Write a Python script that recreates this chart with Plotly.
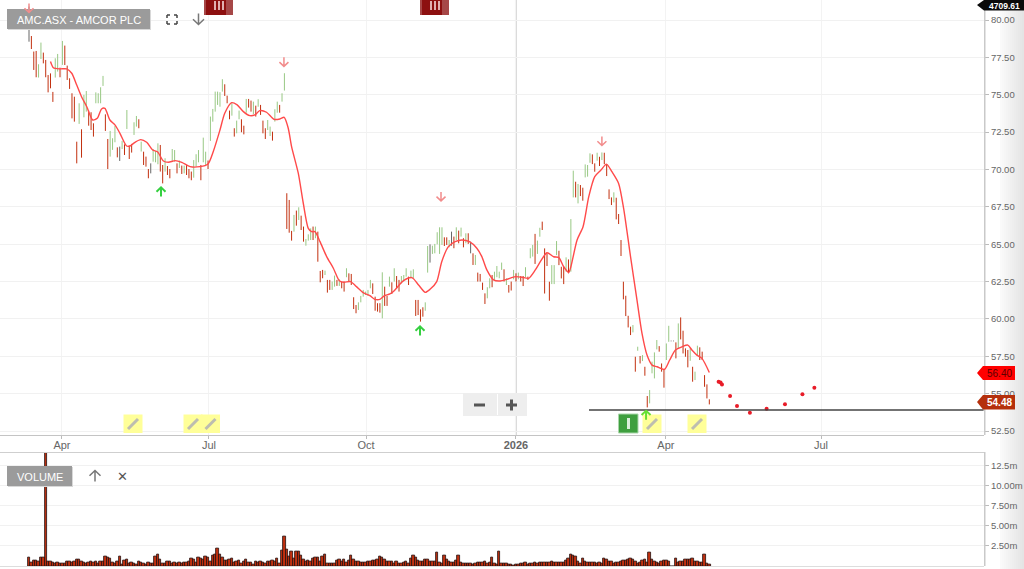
import plotly.graph_objects as go

highs = [80.9,78.93,77.89,77.93,77.04,78.49,77.82,77.33,76.32,76.43,
75.19,77.44,77.73,76.81,78.6,78.29,76.95,76.1,75.1,74.87,
71.86,74.43,72.69,74.99,75.25,73.94,73.83,73.09,75.16,75.1,
75.5,76.26,73.69,72.04,72.58,72.09,72.91,71.48,71.53,71.91,
71.68,73.98,71.6,71.71,73.16,73.58,73.36,71.86,71.19,70.86,
70.03,70.41,71.37,71.24,71.75,71.64,70.3,70.75,70.23,70.03,
71.37,71.3,70.41,70.6,70.26,70.26,70.3,70.03,69.86,70.63,
71.02,71.3,70.3,72.13,71.19,70.6,73.54,74.05,75.21,75.21,
75.17,76.04,75.7,74.94,73.94,74.43,72.76,73.27,73.94,73.36,
72.93,74.72,74.72,74.61,74.54,74.27,74.7,74.32,73.27,72.76,
73.31,72.87,72.53,74.03,74.54,74.32,75.1,76.44,68.41,67.96,
65.89,66.96,67.25,67.47,66.91,66.18,65.35,65.66,66.06,66.18,
66.18,65.84,63.21,63.28,63.23,62.61,62.61,62.5,62.9,62.61,
62.65,62.5,62.5,63.39,63.05,63.01,61.45,60.93,61.11,61.54,
61.94,61.83,61.94,62.61,62.38,61.49,61.05,61.05,63.12,62.16,
61.54,62.83,62.45,63.39,62.87,62.61,62.87,62.94,63.39,62.83,
63.23,63.32,61.27,61.27,60.64,60.78,61.11,64.88,64.99,64.9,
65.02,65.8,66.13,66.13,65.46,65.46,65.28,65.84,65.51,66.13,
65.91,66.11,65.4,65.73,65.73,65.17,64.39,64.28,63.1,63.01,
62.43,61.71,62.12,62.72,62.94,63.16,63.54,63.16,63.77,63.32,
62.72,62.27,62.5,63.28,63.05,63.1,62.87,62.87,63.46,62.83,
64.73,64.95,65.69,65.24,66.1,66.51,64.72,64.39,62.49,63.6,
63.6,65.21,64.56,63.49,63.49,64.12,63.98,66.68,69.92,69.18,
69.03,68.96,68.78,70.34,70.3,71.08,71.01,70.41,71.12,70.85,
71.14,71.12,70.36,68.67,68.13,68.47,68.11,67.02,65.28,62.49,
61.55,60.21,59.48,59.59,57.47,58.14,57.52,57.58,56.8,54.84,
55.24,57.14,57.76,58.59,58.18,57.02,56.58,58.36,59.54,58.55,
58.55,58.43,59.7,60.1,59.21,58.03,57.92,58.03,56.8,56.47,
58.21,58.1,57.81,56.24,55.62,54.62]

lows = [78.55,78.06,76.66,76.17,76.15,77.39,77.1,76.17,75.16,75.43,
74.52,76.15,76.55,76.17,77.0,76.99,75.99,75.39,73.42,73.2,
70.41,73.05,70.79,73.49,73.87,72.93,72.64,72.2,74.43,74.43,
74.43,75.59,72.58,70.03,70.86,71.31,71.82,70.81,70.57,71.37,
70.97,72.71,70.7,71.13,72.31,72.87,72.76,71.2,70.3,70.19,
69.41,69.74,70.52,70.48,70.35,69.86,69.07,69.86,69.63,69.41,
70.57,70.52,69.74,70.1,69.7,69.74,69.63,69.41,69.28,69.45,
70.19,70.48,69.28,70.48,70.3,70.03,71.91,73.2,73.87,74.32,
74.2,75.21,74.92,74.43,73.36,73.6,72.2,72.42,73.36,72.49,
72.35,73.8,74.14,73.87,73.7,73.54,74.2,73.65,72.42,72.04,
72.64,72.24,71.93,73.2,73.8,73.8,74.54,75.28,66.02,65.77,
65.24,65.84,66.24,66.62,65.95,65.17,64.9,65.24,65.28,65.28,
65.4,63.83,62.45,62.72,62.94,61.76,61.94,61.94,62.16,62.21,
62.21,62.05,61.83,62.79,62.5,62.27,60.66,60.38,60.6,61.11,
61.49,61.6,61.55,62.05,61.67,60.55,60.49,60.42,60.04,60.87,
60.87,62.16,61.67,62.5,62.05,61.83,62.38,62.5,62.83,62.27,
62.72,62.72,60.2,60.26,59.82,60.15,60.55,63.1,63.77,64.35,
64.39,64.99,64.35,64.95,64.88,64.95,64.79,64.9,64.73,65.28,
65.06,65.51,64.79,65.06,65.02,64.39,63.61,63.61,62.5,62.5,
61.94,61.0,61.38,62.05,62.12,62.61,62.79,62.72,63.28,62.5,
62.27,61.76,61.9,62.65,62.5,62.65,62.5,62.2,62.79,62.61,
64.06,64.17,63.68,64.35,65.5,65.95,61.7,63.54,61.22,62.33,
62.33,64.27,63.6,62.71,62.33,63.16,63.05,63.16,68.13,68.13,
67.73,68.22,67.91,69.47,69.52,70.45,70.36,69.85,70.59,70.23,
70.63,70.36,69.56,68.02,67.62,67.8,66.66,66.35,64.21,61.31,
60.19,59.43,58.92,59.1,56.47,57.87,57.02,57.18,56.2,54.08,
54.35,56.36,56.02,57.96,57.81,56.47,55.4,57.25,58.47,58.5,
58.5,57.36,58.03,58.63,57.69,57.47,56.76,57.2,55.8,55.91,
57.58,57.25,57.25,55.46,54.68,54.28]

kinds = ("krrrggrrrr" "rggrgrrrrr" "rgrggrrrgg" "ggrrgggrkg" "rgrrggrgrr"
         "rkgggrrgrr" "ggrgrgrrrg" "ggrggrgggg" "ggrrrgrggr" "rgrrgrgrrr"
         "ggrggrggrr" "rgrgrrgggr" "grrrgrrggr" "grrgrrrrgg" "ggggrrrrgr"
         "rgrgrrgggr" "ggrrrrggkg" "ggggrrgkrg" "rgrgrkrgrr" "rrggrggggr"
         "grrgrgrrgr" "ggrggrrrrg" "ggrrrgrggr" "grrgggrrgr" "grrrrgrrrr"
         "rrrgrgrgrr" "ggggrrrggk" "krgrrrrgrg" "grrrrr")

ma_sessions = [9,10.2,13,15.8,17.9,20,22,24.2,26.7,28.6,30.4,31.8,33.9,36,38.1,40.9,42.3,44.4,46.8,49.3,
51.8,53.8,56.3,58.4,61.2,64,67.5,71.6,75,77.2,80,82,84.9,87.2,89.8,92.5,94.6,96.7,99.5,102.6,105.1,106.9,
108.6,110,112.8,114.9,117,118.4,119.8,121.9,124.7,127.5,130,131.9,134.7,137.2,140,142.8,144.9,147,148.8,151.2,
153,156.9,160.4,163.2,166,168,170.8,172.9,175.7,178.5,181.3,184.5,187.6,189.7,191.8,194.6,197.4,200.2,203.7,
206.5,209.3,212.1,214.2,217,219.8,221.9,224,226.1,227,229.6,232.1,234.5,237,239.6,241.9,244.2,247,249.1,
251.9,254.7,256.8,258.9,261,263.1,266.2,268.4,270.8,273.6,276,277.7,279.8,281.9,285]
ma_values = [77.22,76.81,76.73,76.73,76.44,75.65,74.87,74.2,73.31,73.42,74.05,74.09,73.31,72.98,72.42,71.57,71.57,71.82,72.0,71.82,
71.3,71.19,70.57,70.48,70.59,70.48,70.19,70.19,70.37,71.2,72.64,73.76,74.47,74.32,73.87,73.6,73.65,73.94,73.83,73.36,73.38,73.49,
72.76,71.53,69.75,67.74,66.06,65.84,65.84,65.17,64.17,63.39,62.56,62.45,62.5,62.16,61.76,61.56,61.31,61.31,61.54,61.67,
61.89,62.56,62.76,62.27,61.78,61.98,62.5,63.83,64.84,65.17,65.28,65.17,64.73,64.17,63.28,62.61,62.54,62.65,62.83,
62.79,62.72,63.28,63.83,64.43,64.16,64.12,63.49,63.11,63.49,65.28,66.17,68.18,69.52,69.96,70.36,69.85,69.07,67.4,
64.27,61.26,59.03,57.58,56.91,56.8,56.62,57.25,57.92,58.14,58.25,57.92,57.58,57.36,56.42]

forecast_sessions = [288.9,289.7,290.3,293.7,296.6,302,309,316.7,324,329]
forecast_values = [55.8,55.75,55.62,54.84,54.17,53.73,53.99,54.29,54.96,55.4]

volume_m = [1.08,.41,.71,.71,.54,1.04,1.08,14.1,.54,.5,.46,.33,.41,.29,.33,.37,.5,.54,.46,
.62,.75,.75,.54,.41,.25,.46,.58,.41,.5,.25,.5,.62,1.16,1.08,.91,.46,.37,.62,1.2,
.21,.71,.83,.33,.46,.29,.17,.54,.46,.25,.21,.41,.29,.37,1.2,1.45,.75,.33,.29,
.54,.62,.25,.46,.33,.41,.25,.46,.41,.58,.95,.75,.46,1.08,.95,.75,1.16,1.08,.54,1.25,
1.37,2.16,1.37,1.08,.66,.66,.75,.91,.41,.54,.66,.33,.62,.87,.41,.41,.21,.54,.41,.62,
.41,.33,.5,.54,.71,.58,.95,.33,1.91,3.65,2.0,1.16,1.78,.95,1.78,1.78,1.29,.75,.54,.66,
.62,.95,1.08,1.08,.54,1.16,1.49,.33,.33,.25,.33,.66,.75,.54,.83,.41,.66,1.33,.75,.58,
.5,.45,.41,.45,.55,.5,.65,.7,.8,1.15,1.0,.8,.55,.5,.6,.35,.5,.3,.35,.45,.5,.35,
.9,1.35,1.0,.7,.55,.6,.85,.85,.6,.55,.55,1.7,.4,.3,1.35,.75,.5,.45,.4,.65,
1.25,.45,.3,.35,.3,.25,.2,.3,.4,.45,.4,.55,.3,.45,1.0,.25,.2,1.8,.3,.35,
.35,.2,.15,.1,.15,.2,.3,.35,.4,.15,.35,.3,.45,.35,.4,.4,.4,.45,.45,.55,
.4,.4,.4,.4,.45,.7,.95,1.4,1.35,1.15,.55,.3,.9,.5,.4,.4,.45,.4,.35,.45,
.3,.9,.75,.6,.5,.3,.4,.45,.55,.65,.7,.8,.9,.85,.5,.35,.45,.7,.85,.45,
1.65,.85,.6,.45,.3,.55,.65,.65,.55,0,0,.95,.45,.6,.55,.75,.8,.85,.9,.5,
.55,.4,.45,1.45,.35,.2]

price_ticks = [80,77.5,75,72.5,70,67.5,65,62.5,60,57.5,55,52.5]
volume_ticks = [2.5,5,7.5,10,12.5]
volume_labels = ["2.50m","5.00m","7.50m","10.00m","12.5m"]
date_ticks = [13.8,75.4,141.2,204,266.8,331.8]
date_labels = ["Apr","Jul","Oct","<b>2026</b>","Apr","Jul"]
support_level = 53.91
support_start = 234.6
signal_down = [(0,80.8),(106.8,77.2),(172.6,68.2),(240,71.9)]
signal_up = [(55.3,68.5),(163.8,59.2)]
signal_up_late = [(258.5,53.55)]

W, H = 1024, 569
FONT = "Liberation Sans"
px = lambda v: v / W
py = lambda v: 1 - v / H

def rect(x0, y0, x1, y1, fill, line=None, layer="above", op=1):
    return dict(type="rect", xref="paper", yref="paper", x0=px(x0), x1=px(x1), y0=py(y0), y1=py(y1),
                fillcolor=fill, line=dict(width=1 if line else 0, color=line or fill), layer=layer, opacity=op)

def seg(x0, y0, x1, y1, color, w=1.5, layer="above"):
    return dict(type="line", xref="paper", yref="paper", x0=px(x0), x1=px(x1), y0=py(y0), y1=py(y1),
                line=dict(color=color, width=w), layer=layer)

def poly(points, fill):
    d = "M " + " L ".join(f"{px(a):.5f},{py(b):.5f}" for a, b in points) + " Z"
    return dict(type="path", xref="paper", yref="paper", path=d, fillcolor=fill, line=dict(width=0), layer="above")

def arrow(x, y, color, up, size=4.5, w=1.5, xref="x", yref="y"):
    s = size
    h = s * 0.95
    if up:
        path = f"M 0,{-s} L 0,{s} M {-s},{s-h} L 0,{s} L {s},{s-h}"
    else:
        path = f"M 0,{s} L 0,{-s} M {-s},{-s+h} L 0,{-s} L {s},{-s+h}"
    return dict(type="path", xref=xref, yref=yref, xsizemode="pixel", ysizemode="pixel", xanchor=x, yanchor=y, path=path,
                line=dict(color=color, width=w), layer="above")

def note(text, x, y, size=11, color="#fff", bold=False, family=FONT):
    return dict(xref="paper", yref="paper", x=px(x), y=py(y), text=f"<b>{text}</b>" if bold else text,
                showarrow=False, xanchor="center", yanchor="middle", font=dict(size=size, color=color, family=family))

fig = go.Figure()

for kind, color in (("g", "#98c884"), ("r", "#c2300f"), ("k", "#666666")):
    xs, ys = [], []
    for i, (h, l, k) in enumerate(zip(highs, lows, kinds)):
        if k == kind:
            xs += [i, i, None]
            ys += [l, h, None]
    fig.add_trace(go.Scatter(x=xs, y=ys, mode="lines", line=dict(color=color, width=1), hoverinfo="skip", showlegend=False))

fig.add_trace(go.Scatter(x=ma_sessions, y=ma_values, mode="lines", line=dict(color="#ff4a4a", width=1.4, shape="spline", smoothing=0.7),
                         hoverinfo="skip", showlegend=False))
fig.add_trace(go.Scatter(x=forecast_sessions, y=forecast_values, mode="markers", marker=dict(color="#e81c28", size=4),
                         hoverinfo="skip", showlegend=False))
fig.add_trace(go.Bar(x=list(range(len(volume_m))), y=volume_m, xaxis="x2", yaxis="y2", width=1,
                     marker=dict(color="#c2300f", line=dict(color="#221010", width=0.8)), hoverinfo="skip", showlegend=False))

shapes = []
for k in range(12):
    shapes.append(rect(1000 + 2 * k, 0, 1002 + 2 * k, 569, f"rgb({250-2*k},{250-2*k},{250-2*k})", layer="below"))
shapes += [
    rect(984, 0, 985.5, 435, "#c9c9c9"),
    rect(984, 452, 985.5, 566, "#c9c9c9"),
    rect(0, 435, 984, 436, "#c4c4c4"),
    rect(0, 452, 984, 453, "#cfcfcf"),
    rect(0, 566, 984, 567, "#dddddd"),
    dict(type="line", xref="x", yref="paper", x0=date_ticks[3], x1=date_ticks[3], y0=py(435), y1=1,
         line=dict(color="#dadada", width=2), layer="below"),
    dict(type="line", xref="x", yref="y", x0=support_start, x1=399.9, y0=support_level, y1=support_level,
         line=dict(color="#444444", width=1.4), layer="above"),
    rect(8, 10, 151, 30, "#d8d8d8"), rect(7, 9, 150, 29, "#9b9b9b"),
    rect(8, 467, 73, 487, "#d8d8d8"), rect(7, 466, 72, 486, "#9b9b9b"),
    seg(167, 15, 167, 18, "#444"), seg(167, 15, 170, 15, "#444"), seg(174, 15, 177, 15, "#444"), seg(177, 15, 177, 18, "#444"),
    seg(167, 21, 167, 24, "#444"), seg(167, 24, 170, 24, "#444"), seg(174, 24, 177, 24, "#444"), seg(177, 21, 177, 24, "#444"),
    rect(463, 393, 527, 416, "#eeeeee"),
    rect(474, 403.5, 485, 406.5, "#555555"), rect(506, 403.5, 517, 406.5, "#555555"), rect(510, 399.5, 513, 410.5, "#555555"),
    rect(497, 394, 498, 415, "#ffffff"),
    rect(618.5, 414, 638, 433, "#3f9f3f", line="#a9d6a9"), rect(627, 418, 630, 429, "#dcefdc"),
]
for x0 in (204, 420):
    shapes += [rect(x0, 0, x0 + 29, 15, "#8d1010"), rect(x0 + 10, 1, x0 + 12, 10, "#e0b0b0"),
               rect(x0 + 14, 1, x0 + 16, 10, "#e0b0b0"), rect(x0 + 18, 1, x0 + 20, 10, "#e0b0b0"),
               rect(x0 + 22, 0, x0 + 29, 15, "#b06060", op=0.7), rect(x0, 0, x0 + 2, 15, "#b06060", op=0.7)]
for cx in (133, 193, 210.5, 652, 697):
    shapes += [rect(cx - 9.5, 414.5, cx + 9.5, 433, "#ffff99"), seg(cx - 5, 429, cx + 5, 419, "#bdbdb0", w=3)]
shapes += [
    poly([(977, 373), (983, 366), (1015, 366), (1015, 380), (983, 380)], "#ff0000"),
    poly([(977, 402), (983, 395), (1015, 395), (1015, 409.5), (983, 409.5)], "#b5300c"),
    poly([(977, 5), (984, 0), (1024, 0), (1024, 10.5), (984, 10.5)], "#0a0a0a"),
]
for (x, y) in signal_down:
    shapes.append(arrow(x, y, "#f28c8c", False))
for (x, y) in signal_up:
    shapes.append(arrow(x, y, "#35d040", True, w=2))
for (x, y) in signal_up_late:
    shapes.append(arrow(x, y, "#66e033", True, w=2))
shapes.append(arrow(px(198.5), py(19), "#777777", False, size=5.5, xref="paper", yref="paper"))
shapes.append(arrow(px(95), py(476), "#777777", True, size=5.5, xref="paper", yref="paper"))

annotations = [
    note("AMC.ASX - AMCOR PLC", 78.5, 19.5, size=11, color="#ffffff"),
    note("VOLUME", 39.5, 476.5, size=11, color="#ffffff"),
    note("✕", 122, 476, size=13, color="#555555", family="DejaVu Sans"),
    note("56.40", 999, 373.5, size=10, color="#5a0000"),
    note("54.48", 999, 402.5, size=10, color="#ffffff", bold=True),
    note("4709.61", 1004, 6, size=8.5, color="#ffffff", bold=True),
]

GRID = "#f1f1f1"
x_range = [-12.15, 400.07]
fig.update_layout(
    width=W, height=H, autosize=False, margin=dict(l=0, r=0, t=0, b=0),
    paper_bgcolor="#ffffff", plot_bgcolor="rgba(0,0,0,0)", showlegend=False, bargap=0,
    shapes=shapes, annotations=annotations,
    xaxis=dict(domain=[0, 984 / W], range=x_range, anchor="y", tickmode="array", tickvals=date_ticks, ticktext=date_labels,
               showgrid=True, gridcolor="#f3f3f3", gridwidth=1, zeroline=False, showline=False, ticks="outside", ticklen=3,
               ticklabelstandoff=-3, tickcolor="#bbbbbb", tickfont=dict(family=FONT, size=11, color="#666666")),
    yaxis=dict(domain=[py(435), 1], range=[81.34 - 435 / 14.945, 81.34], side="right", anchor="x", tickmode="array", tickvals=price_ticks,
               tickformat=".2f", showgrid=True, gridcolor=GRID, zeroline=False, showline=False, ticks="outside", ticklen=4,
               tickcolor="#bbbbbb", tickfont=dict(family=FONT, size=9.5, color="#666666")),
    xaxis2=dict(domain=[0, 984 / W], range=x_range, anchor="y2", showticklabels=False, showgrid=False, zeroline=False, ticks=""),
    yaxis2=dict(domain=[py(566), py(452.5)], range=[0, 113.5 / 8.04], side="right", anchor="x2", tickmode="array", tickvals=volume_ticks,
                ticktext=volume_labels, showgrid=True, gridcolor=GRID, zeroline=False, showline=False, ticks="outside", ticklen=4,
                tickcolor="#bbbbbb", tickfont=dict(family=FONT, size=9.5, color="#666666")),
)
fig.write_html("out.html", config={"displayModeBar": False},
               post_script="document.body.style.margin='0';document.documentElement.style.overflow='hidden';")
